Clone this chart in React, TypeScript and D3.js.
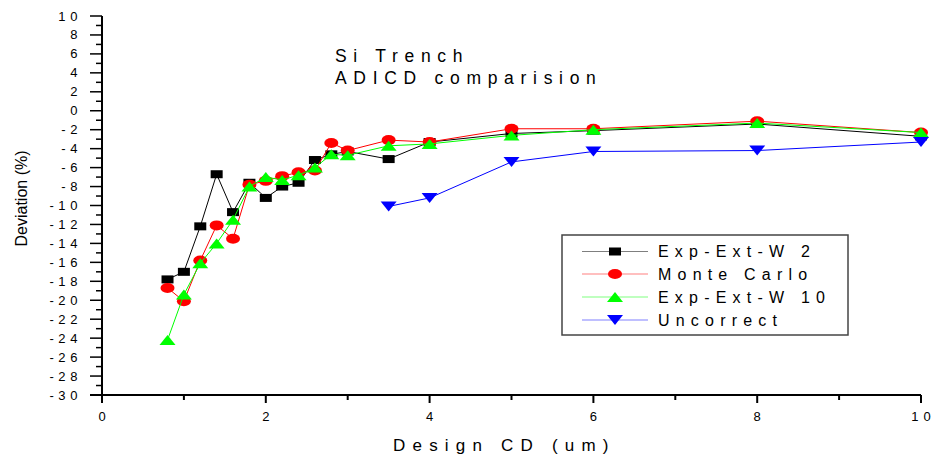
import * as d3 from "d3";

// Design CD (um) shared by the three corrected series
const designCD = [0.8, 1.0, 1.2, 1.4, 1.6, 1.8, 2.0, 2.2, 2.4, 2.6, 2.8, 3.0, 3.5, 4, 5, 6, 8, 10];
const expExtW2 = [-17.8, -17.0, -12.2, -6.7, -10.7, -7.6, -9.2, -8.0, -7.6, -5.2, -4.6, -4.3, -5.1, -3.3, -2.4, -2.1, -1.4, -2.7];
const monteCarlo = [-18.7, -20.1, -15.8, -12.1, -13.5, -7.8, -7.4, -6.9, -6.5, -6.3, -3.4, -4.2, -3.1, -3.3, -1.9, -1.9, -1.1, -2.3];
const expExtW10 = [-24.2, -19.4, -16.1, -14.0, -11.5, -8.0, -7.0, -7.3, -6.8, -6.0, -4.6, -4.7, -3.7, -3.5, -2.6, -2.0, -1.3, -2.3];
const uncorrectCD = [3.5, 4, 5, 6, 8, 10];
const uncorrect = [-10.1, -9.2, -5.4, -4.3, -4.2, -3.3];

const xTicks = [0, 2, 4, 6, 8, 10];
const xMinor = [1, 3, 5, 7, 9];
const yTicks = [10, 8, 6, 4, 2, 0, -2, -4, -6, -8, -10, -12, -14, -16, -18, -20, -22, -24, -26, -28, -30];
const yMinor = [9, 7, 5, 3, 1, -1, -3, -5, -7, -9, -11, -13, -15, -17, -19, -21, -23, -25, -27, -29];

const series = [
  { name: "Exp-Ext-W 2", xs: designCD, ys: expExtW2, color: "#000000", marker: "square" },
  { name: "Monte Carlo", xs: designCD, ys: monteCarlo, color: "#ff0000", marker: "circle" },
  { name: "Exp-Ext-W 10", xs: designCD, ys: expExtW10, color: "#00ff00", marker: "up" },
  { name: "Uncorrect", xs: uncorrectCD, ys: uncorrect, color: "#0000ff", marker: "down" },
];

const FONT = "'Liberation Sans', Arial, sans-serif";

function Marker({ kind, x, y, color }: { kind: string; x: number; y: number; color: string }) {
  if (kind === "square") return <rect x={x - 6} y={y - 4} width={12} height={8} fill={color} />;
  if (kind === "circle") return <ellipse cx={x} cy={y} rx={7} ry={5} fill={color} />;
  if (kind === "up") return <path d={`M${x - 8},${y + 5}L${x + 8},${y + 5}L${x},${y - 5}Z`} fill={color} />;
  return <path d={`M${x - 8},${y - 5}L${x + 8},${y - 5}L${x},${y + 5}Z`} fill={color} />;
}

export default function App() {
  const width = 936;
  const height = 461;

  const x = d3.scaleLinear().domain([0, 10]).range([102, 921]);
  const y = d3.scaleLinear().domain([-30, 10]).range([395, 16]);

  const line = d3
    .line<[number, number]>()
    .x((d) => x(d[0]))
    .y((d) => y(d[1]));

  const legendX = 562;
  const legendY = 235;
  const rowY = [251.5, 274, 297, 320];

  return (
    <svg
      width={width}
      height={height}
      style={{ position: "absolute", left: 0, top: 0, background: "#fff" }}
      fontFamily={FONT}
    >
      {/* y axis */}
      <line x1={x(0)} x2={x(0)} y1={y(10)} y2={y(-30)} stroke="#000" strokeWidth={2} />
      {yTicks.map((t) => (
        <g key={"yt" + t}>
          <line x1={x(0) - 12} x2={x(0)} y1={y(t)} y2={y(t)} stroke="#000" strokeWidth={1.5} />
          <text
            x={82}
            y={y(t)}
            textAnchor="end"
            dominantBaseline="central"
            fontSize={13}
            letterSpacing={4.6}
            fill="#000"
          >
            {t}
          </text>
        </g>
      ))}
      {yMinor.map((t) => (
        <line key={"ym" + t} x1={x(0) - 6} x2={x(0)} y1={y(t)} y2={y(t)} stroke="#000" strokeWidth={1.5} />
      ))}
      <text
        transform={`translate(27,198.5) rotate(-90)`}
        textAnchor="middle"
        fontSize={16}
        fill="#000"
      >
        Deviation (%)
      </text>

      {/* x axis */}
      <line x1={x(0) - 12} x2={x(10)} y1={y(-30)} y2={y(-30)} stroke="#000" strokeWidth={2} />
      {xTicks.map((t) => (
        <g key={"xt" + t}>
          <line x1={x(t)} x2={x(t)} y1={y(-30)} y2={y(-30) + 8} stroke="#000" strokeWidth={2} />
          <text
            x={x(t) + 2.5}
            y={421}
            textAnchor="middle"
            fontSize={13}
            letterSpacing={5}
            fill="#000"
          >
            {t}
          </text>
        </g>
      ))}
      {xMinor.map((t) => (
        <line key={"xm" + t} x1={x(t)} x2={x(t)} y1={y(-30)} y2={y(-30) + 5} stroke="#000" strokeWidth={2} />
      ))}
      <text x={393} y={451} fontSize={17} letterSpacing={7.2} fill="#000">
        Design CD (um)
      </text>

      {/* title */}
      <text x={335} y={61.5} fontSize={17.5} letterSpacing={6.7} fill="#000">
        Si Trench
      </text>
      <text x={335} y={84} fontSize={17.5} letterSpacing={6.7} fill="#000">
        ADICD comparision
      </text>

      {/* series */}
      {series.map((s) => {
        const pts = s.xs.map((v, i) => [v, s.ys[i]] as [number, number]);
        return (
          <g key={s.name}>
            <path d={line(pts) || ""} fill="none" stroke={s.color} strokeWidth={1} />
            {pts.map((p, i) => (
              <Marker key={i} kind={s.marker} x={x(p[0])} y={y(p[1])} color={s.color} />
            ))}
          </g>
        );
      })}

      {/* legend */}
      <rect x={legendX} y={legendY} width={286} height={100} fill="#fff" stroke="#444" strokeWidth={1.5} />
      {series.map((s, i) => (
        <g key={"lg" + s.name}>
          <line x1={582} x2={648} y1={rowY[i]} y2={rowY[i]} stroke={s.color} strokeOpacity={0.5} strokeWidth={1} />
          <Marker kind={s.marker} x={615} y={rowY[i]} color={s.color} />
          <text x={658} y={rowY[i]} dominantBaseline="central" fontSize={16} letterSpacing={6.2} fill="#000">
            {s.name}
          </text>
        </g>
      ))}
    </svg>
  );
}
